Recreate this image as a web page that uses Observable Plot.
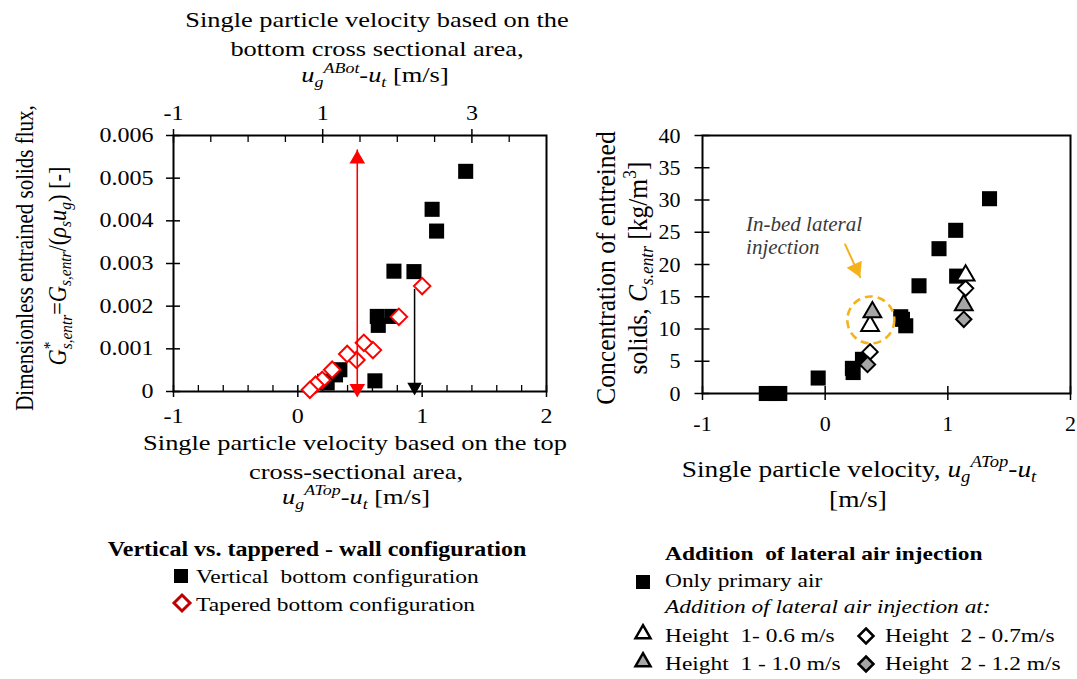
<!DOCTYPE html>
<html><head><meta charset="utf-8">
<script src="https://cdn.jsdelivr.net/npm/d3@7"></script>
<script src="https://cdn.jsdelivr.net/npm/@observablehq/plot@0.6"></script>
<style>
html,body{margin:0;padding:0;background:#fff;}
#root{position:relative;width:1077px;height:679px;overflow:hidden;background:#fff;font-family:'Liberation Serif','Times New Roman',serif;color:#000;}
.plot{position:absolute;top:0;}
.t{position:absolute;white-space:nowrap;color:#000;font-family:'Liberation Serif','Times New Roman',serif;}
.t sub,.t sup{font-size:0.68em;line-height:0;}
.t sub{vertical-align:-0.32em;}
.t sup{vertical-align:0.6em;}
.mk{position:absolute;overflow:visible;}
</style></head><body><div id="root"></div>
<script>
// ---------------- DATA ----------------
// Left chart: vertical vs tapered wall configuration
const verticalX = [1.35, 1.08, 1.116, 0.773, 0.934, 0.639, 0.759, 0.647, 0.62, 0.338, 0.303, 0.236, 0.215];
const verticalY = [0.00516, 0.00427, 0.00376, 0.00282, 0.00281, 0.00176, 0.00176, 0.00155, 0.00025, 0.00051, 0.00039, 0.0002, 0.00024];
const taperedX = [1.0, 0.813, 0.604, 0.531, 0.472, 0.397, 0.276, 0.196, 0.142, 0.097];
const taperedY = [0.00247, 0.00175, 0.00097, 0.00114, 0.00074, 0.00088, 0.00051, 0.00027, 0.00016, 0.00004];
const redArrowX = [0.478, 0.478];
const redArrowY = [0.00566, 0];
const blackArrowX = [0.939, 0.939];
const blackArrowY = [0.00239, 0];
const leftYTicks = [0, 0.001, 0.002, 0.003, 0.004, 0.005, 0.006];
const leftYTickLabels = ["0", "0.001", "0.002", "0.003", "0.004", "0.005", "0.006"];
const leftXTicks = [-1, 0, 1, 2];
const leftXMinor = [-0.8, -0.6, -0.4, -0.2, 0.2, 0.4, 0.6, 0.8, 1.2, 1.4, 1.6, 1.8];
const topDomain = [-1, 4];
const topTicks = [-1, 1, 3];
const topMinor = [-0.5, 0, 0.5, 1.5, 2, 2.5, 3.5];

// Right chart: addition of lateral air injection
const primaryX = [1.34, 1.064, 0.928, 0.765, 1.072, 0.616, 0.63, 0.657, 0.222, 0.228, 0.304, -0.057, -0.48, -0.42, -0.37];
const primaryY = [30.2, 25.3, 22.45, 16.7, 18.2, 11.9, 11.5, 10.5, 3.9, 3.25, 5.3, 2.4, 0, 0, 0];
const h1LowX = [0.366, 1.145];   // Height 1 - 0.6 m/s
const h1LowY = [10.5, 18.3];
const h1HighX = [0.385, 1.13];   // Height 1 - 1.0 m/s
const h1HighY = [12.6, 13.7];
const h2LowX = [0.366, 1.145];   // Height 2 - 0.7 m/s
const h2LowY = [6.45, 16.3];
const h2HighX = [0.345, 1.13];   // Height 2 - 1.2 m/s
const h2HighY = [4.5, 11.5];
const rightYTicks = [0, 5, 10, 15, 20, 25, 30, 35, 40];
const rightXTicks = [-1, 0, 1, 2];
const circleX = [0.372];
const circleY = [11.4];
const noteX = [-0.645, -0.645];
const noteY = [26.3, 22.6];
const noteText = ["In-bed lateral", "injection"];
const noteArrowX = [0.163, 0.285];
const noteArrowY = [23.1, 18.05];

// ---------------- HELPERS ----------------
const pts = (xs, ys) => xs.map((x, i) => ({x, y: ys[i]}));
const FONT = "'Liberation Serif','Times New Roman',serif";
function triSymbol(angleDeg) {
  const a = angleDeg * Math.PI / 180, c = Math.cos(a), s = Math.sin(a);
  return {draw(ctx, size) {
    const y = -Math.sqrt(size / (3 * Math.sqrt(3)));
    const p = [[0, 2 * y], [-Math.sqrt(3) * y, -y], [Math.sqrt(3) * y, -y]].map(([px, py]) => [px * c - py * s, px * s + py * c]);
    ctx.moveTo(p[0][0], p[0][1]); ctx.lineTo(p[1][0], p[1][1]); ctx.lineTo(p[2][0], p[2][1]); ctx.closePath();
  }};
}
function stretchTicks(svg, k) {
  svg.querySelectorAll('g[aria-label$="tick label"] text').forEach(t => {
    const tr = t.getAttribute("transform") || "";
    t.setAttribute("transform", `${tr} scale(${k},1)`);
  });
}
const root = document.getElementById("root");
function addText(html, x, y, o = {}) {
  const {size = 22, anchor = "middle", sx = 1, weight = "normal", italic = false, rotate = false} = o;
  const d = document.createElement("div");
  d.className = "t";
  d.innerHTML = html;
  Object.assign(d.style, {fontSize: size + "px", lineHeight: size + "px", fontWeight: weight, fontStyle: italic ? "italic" : "normal"});
  if (rotate) {
    d.style.left = x + "px"; d.style.top = y + "px";
    d.style.transformOrigin = "50% 50%";
    d.style.transform = `translate(-50%,-50%) scaleX(${sx}) rotate(-90deg)`;
  } else {
    d.style.left = x + "px"; d.style.top = (y - 0.8375 * size) + "px";
    const tx = anchor === "middle" ? "-50%" : anchor === "end" ? "-100%" : "0";
    d.style.transformOrigin = anchor === "middle" ? "50% 0" : anchor === "end" ? "100% 0" : "0 0";
    d.style.transform = `translateX(${tx}) scaleX(${sx})`;
  }
  root.appendChild(d);
}
function addMarker(kind, cx, cy, o = {}) {
  const {fill = "#000", stroke = "none", sw = 2, s = 14} = o;
  const ns = "http://www.w3.org/2000/svg";
  const svg = document.createElementNS(ns, "svg");
  svg.setAttribute("class", "mk");
  svg.setAttribute("width", 24); svg.setAttribute("height", 24);
  svg.style.left = (cx - 12) + "px"; svg.style.top = (cy - 12) + "px";
  let el;
  if (kind === "square") {
    el = document.createElementNS(ns, "rect");
    el.setAttribute("x", 12 - s / 2); el.setAttribute("y", 12 - s / 2);
    el.setAttribute("width", s); el.setAttribute("height", s);
  } else if (kind === "diamond") {
    el = document.createElementNS(ns, "path");
    const h = s / 2;
    el.setAttribute("d", `M12,${12 - h}L${12 + h},12L12,${12 + h}L${12 - h},12Z`);
  } else {
    el = document.createElementNS(ns, "path");
    const h = s * 0.866;
    el.setAttribute("d", `M12,${12 - h * 0.6}L${12 + s / 2},${12 + h * 0.4}L${12 - s / 2},${12 + h * 0.4}Z`);
  }
  el.setAttribute("fill", fill); el.setAttribute("stroke", stroke); el.setAttribute("stroke-width", sw);
  svg.appendChild(el);
  root.appendChild(svg);
}

// ---------------- LEFT CHART ----------------
const toBottom = v => -1 + (v - topDomain[0]) * 3 / (topDomain[1] - topDomain[0]);
const fromBottom = d => Math.round(topDomain[0] + (d + 1) * (topDomain[1] - topDomain[0]) / 3);
const redPts = pts(redArrowX, redArrowY);
const blackPts = pts(blackArrowX, blackArrowY);
const left = Plot.plot({
  width: 560, height: 440,
  marginLeft: 173, marginRight: 14, marginTop: 135, marginBottom: 49,
  x: {domain: [-1, 2]},
  y: {domain: [0, 0.006]},
  style: {fontFamily: FONT, fontSize: "20px", color: "#000", background: "transparent", overflow: "visible"},
  marks: [
    Plot.axisY(leftYTicks, {tickSize: 14, dx: 7, fill: "none", strokeWidth: 1.5, label: null}),
    Plot.axisY(leftYTicks, {tickSize: 0, tickPadding: 20, stroke: "none", tickFormat: d => leftYTickLabels[leftYTicks.indexOf(d)], label: null}),
    Plot.axisX(leftXTicks, {anchor: "bottom", tickSize: 12, dy: -6, fill: "none", strokeWidth: 1.5, label: null}),
    Plot.axisX(leftXMinor, {anchor: "bottom", tickSize: 6, dy: -6, fill: "none", strokeWidth: 1.3, label: null}),
    Plot.axisX(leftXTicks, {anchor: "bottom", tickSize: 0, tickPadding: 17, stroke: "none", tickFormat: d => String(d), label: null}),
    Plot.axisX(topTicks.map(toBottom), {anchor: "top", tickSize: 14, dy: 7, fill: "none", strokeWidth: 1.5, label: null}),
    Plot.axisX(topMinor.map(toBottom), {anchor: "top", tickSize: 6, dy: 6, fill: "none", strokeWidth: 1.3, label: null}),
    Plot.axisX(topTicks.map(toBottom), {anchor: "top", tickSize: 0, tickPadding: 16, stroke: "none", tickFormat: d => String(fromBottom(d)), label: null}),
    Plot.frame({stroke: "#000", strokeWidth: 2}),
    Plot.line(blackPts, {x: "x", y: "y", stroke: "#000", strokeWidth: 1.5}),
    Plot.dot(pts(verticalX, verticalY), {x: "x", y: "y", symbol: "square", r: 8.5, fill: "#000", stroke: "none"}),
    Plot.dot(pts(taperedX, taperedY), {x: "x", y: "y", symbol: "diamond2", r: 7.4, fill: "#fff", stroke: "#ff0000", strokeWidth: 2}),
    Plot.line(redPts, {x: "x", y: "y", stroke: "#ff0000", strokeWidth: 1.6}),
    Plot.dot([redPts[0]], {x: "x", y: "y", symbol: triSymbol(0), r: 5.8, fill: "#ff0000", stroke: "none", dy: 9}),
    Plot.dot([redPts[1]], {x: "x", y: "y", symbol: triSymbol(180), r: 5.8, fill: "#ff0000", stroke: "none", dy: -3}),
    Plot.dot([blackPts[1]], {x: "x", y: "y", symbol: triSymbol(180), r: 5.4, fill: "#000", stroke: "none", dy: -4.5})
  ]
});
stretchTicks(left, 1.2);
left.classList.add("plot"); left.style.left = "0px";
root.appendChild(left);

// ---------------- RIGHT CHART ----------------
const right = Plot.plot({
  width: 517, height: 440,
  marginLeft: 142, marginRight: 7, marginTop: 135, marginBottom: 47,
  x: {domain: [-1, 2]},
  y: {domain: [0, 40]},
  style: {fontFamily: FONT, fontSize: "22px", color: "#000", background: "transparent", overflow: "visible"},
  marks: [
    Plot.axisY(rightYTicks, {tickSize: 15, dx: 7.5, fill: "none", strokeWidth: 1.5, label: null}),
    Plot.axisY(rightYTicks, {tickSize: 0, tickPadding: 22, stroke: "none", tickFormat: d => String(d), label: null}),
    Plot.axisX(rightXTicks, {anchor: "bottom", tickSize: 14, dy: -7, fill: "none", strokeWidth: 1.5, label: null}),
    Plot.axisX(rightXTicks, {anchor: "bottom", tickSize: 0, tickPadding: 22, stroke: "none", tickFormat: d => String(d), label: null}),
    Plot.frame({stroke: "#000", strokeWidth: 2}),
    Plot.dot(pts(primaryX, primaryY), {x: "x", y: "y", symbol: "square", r: 8.5, fill: "#000", stroke: "none"}),
    Plot.dot(pts(h2LowX, h2LowY), {x: "x", y: "y", symbol: "diamond2", r: 6.9, fill: "#fff", stroke: "#000", strokeWidth: 2}),
    Plot.dot(pts(h2HighX, h2HighY), {x: "x", y: "y", symbol: "diamond2", r: 6.9, fill: "#a6a6a6", stroke: "#000", strokeWidth: 2}),
    Plot.dot(pts(h1LowX, h1LowY), {x: "x", y: "y", symbol: "triangle", r: 6.6, fill: "#fff", stroke: "#000", strokeWidth: 2}),
    Plot.dot(pts(h1HighX, h1HighY), {x: "x", y: "y", symbol: "triangle", r: 6.6, fill: "#a6a6a6", stroke: "#000", strokeWidth: 2}),
    Plot.dot(pts(circleX, circleY), {x: "x", y: "y", r: 23.5, fill: "none", stroke: "#f5b21a", strokeWidth: 2.6, strokeDasharray: "8,5"}),
    Plot.line(pts(noteArrowX, noteArrowY), {x: "x", y: "y", stroke: "#f5b21a", strokeWidth: 2}),
    Plot.dot([pts(noteArrowX, noteArrowY)[1]], {x: "x", y: "y", symbol: triSymbol(155.4), r: 6.2, fill: "#f5b21a", stroke: "none", dx: -3.9, dy: -8.5}),
    Plot.text(noteText.map((t, i) => ({t, x: noteX[i], y: noteY[i]})), {x: "x", y: "y", text: "t", textAnchor: "start", lineAnchor: "middle", fontStyle: "italic", fontSize: 21, fill: "#3a3a3a"})
  ]
});
right.classList.add("plot"); right.style.left = "560px";
root.appendChild(right);

// ---------------- TEXT: TITLES ----------------
const ugStack = (sup) => `<i>u</i><sub><i>g</i></sub><sup><i>${sup}</i></sup>-<i>u<sub>t</sub></i>`;
// Top axis title (left chart)
addText("Single particle velocity based on the", 377, 27, {size: 22, sx: 1.2});
addText("bottom cross sectional area,", 377, 56, {size: 22, sx: 1.2});
addText(`${ugStack("ABot")} [m/s]`, 375, 82, {size: 22, sx: 1.2});
// Bottom axis title (left chart)
addText("Single particle velocity based on the top", 355, 450, {size: 22, sx: 1.2});
addText("cross-sectional area,", 356, 479, {size: 22, sx: 1.2});
addText(`${ugStack("ATop")} [m/s]`, 356, 504, {size: 22, sx: 1.2});
// Y titles (left chart)
addText("Dimensionless entrained solids flux,", 25, 258, {size: 21, sx: 1.2, rotate: true});
addText(`<i>G</i><sup>*</sup><sub style="margin-left:-0.5em"><i>s,entr</i></sub>=<i>G<sub>s,entr</sub></i>/(<i>ρ<sub>s</sub>u<sub>g</sub></i>) [-]`, 58, 266, {size: 22.5, sx: 1.15, rotate: true});
// Right chart titles
addText("Concentration of entreined", 606, 268, {size: 25.5, sx: 1.1, rotate: true});
addText(`solids, <i>C<sub>s.entr</sub></i> [kg/m<sup>3</sup>]`, 638, 268, {size: 25.5, sx: 1.1, rotate: true});
addText(`Single particle velocity, ${ugStack("ATop")}`, 859, 477, {size: 24, sx: 1.14});
addText("[m/s]", 858, 507, {size: 24, sx: 1.14});

// ---------------- LEGENDS ----------------
addText("Vertical vs. tappered - wall configuration", 317, 556, {size: 20, sx: 1.2, weight: "bold"});
addMarker("square", 181, 576, {s: 14});
addText("Vertical&nbsp; bottom configuration", 196, 583, {size: 19.5, sx: 1.2, anchor: "start"});
addMarker("diamond", 182, 603, {fill: "#fff", stroke: "#c00000", sw: 3, s: 16});
addText("Tapered bottom configuration", 196, 611, {size: 19.5, sx: 1.2, anchor: "start"});

addText("Addition&nbsp; of lateral air injection", 665, 560, {size: 19.5, sx: 1.2, weight: "bold", anchor: "start"});
addMarker("square", 642.5, 582, {s: 14});
addText("Only primary air", 665, 587, {size: 19.5, sx: 1.2, anchor: "start"});
addText("Addition of lateral air injection at:", 665, 613, {size: 19.5, sx: 1.2, italic: true, anchor: "start"});
addMarker("triangle", 643, 633, {fill: "#fff", stroke: "#000", sw: 2.5, s: 15});
addText("Height&nbsp; 1- 0.6 m/s", 665, 642, {size: 19.5, sx: 1.2, anchor: "start"});
addMarker("diamond", 866, 636, {fill: "#fff", stroke: "#000", sw: 2.5, s: 15});
addText("Height&nbsp; 2 - 0.7m/s", 885, 642, {size: 19.5, sx: 1.2, anchor: "start"});
addMarker("triangle", 643, 661, {fill: "#a6a6a6", stroke: "#000", sw: 2.5, s: 15});
addText("Height&nbsp; 1 - 1.0 m/s", 665, 670, {size: 19.5, sx: 1.2, anchor: "start"});
addMarker("diamond", 866, 664, {fill: "#a6a6a6", stroke: "#000", sw: 2.5, s: 15});
addText("Height&nbsp; 2 - 1.2 m/s", 885, 670, {size: 19.5, sx: 1.2, anchor: "start"});
</script></body></html>
